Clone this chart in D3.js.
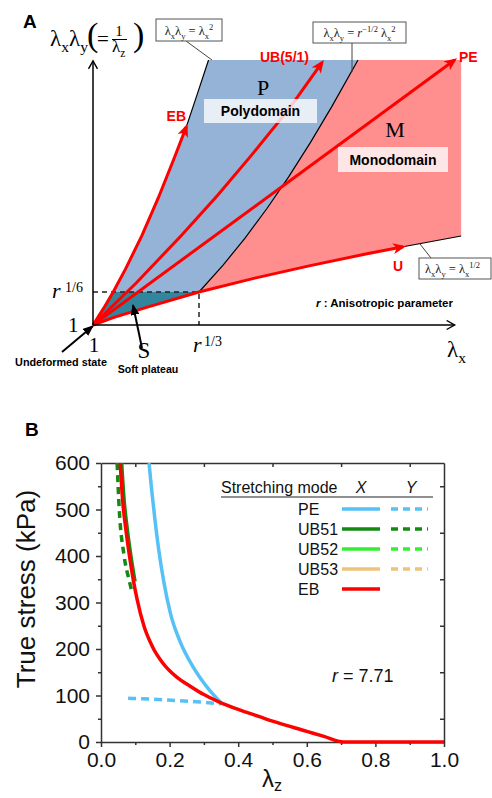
<!DOCTYPE html>
<html>
<head>
<meta charset="utf-8">
<script src="https://cdn.jsdelivr.net/npm/d3@7"></script>
<style>
  body { margin: 0; background: #fff; }
  svg { display: block; }
</style>
</head>
<body>
<div id="chart"></div>
<script>
// ---------- panel A : deformation map, lambda_x vs lambda_x*lambda_y (r = 7.71)
const plateauX = 1.976;   // r^(1/3)
const plateauY = 1.406;   // r^(1/6)
const mapTop = 4.26;
const mapRight = 4.39;

const ebPath = [[1, 1], [1.1, 1.21], [1.186, 1.406], [1.3, 1.69], [1.45, 2.1], [1.6, 2.56], [1.75, 3.06], [1.86, 3.44]];
const ebBoundary = [[1.86, 3.44], [1.97, 3.88], [2.064, 4.26]];
const ubPath = [[1, 1], [1.4, 1.52], [1.82, 2.11], [2.15, 2.6], [2.46, 3.09], [2.8, 3.65], [3.11, 4.23]];
const pePath = [[1, 1], [4.33, 4.26]];
const uPath = [[1, 1], [1.186, 1.09], [1.5, 1.22], [1.976, 1.406], [2.5, 1.58], [3, 1.73], [3.5, 1.87], [3.855, 1.963]];
const uBoundary = [[3.855, 1.963], [4.39, 2.095]];
const pmBoundary = [[1.976, 1.406], [2.2, 1.74], [2.4, 2.07], [2.6, 2.43], [2.8, 2.82], [3, 3.24], [3.2, 3.69], [3.44, 4.26]];

// ---------- panel B : true stress vs lambda_z
const stressTicks = [0, 100, 200, 300, 400, 500, 600];
const stressMinor = [50, 150, 250, 350, 450, 550];
const lambdaTicks = [0, 0.2, 0.4, 0.6, 0.8, 1.0];
const lambdaMinor = [0.1, 0.3, 0.5, 0.7, 0.9];

const peX = [[0.140, 600], [0.148, 540], [0.157, 480], [0.168, 415], [0.183, 345], [0.203, 275], [0.23, 217], [0.268, 162], [0.308, 119], [0.35, 84]];
const peY = [[0.079, 94], [0.15, 92], [0.22, 89], [0.29, 86], [0.35, 82]];
const ub51X = [[0.061, 600], [0.068, 522], [0.077, 460], [0.088, 400], [0.1, 345]];
const ub51Y = [[0.047, 600], [0.053, 503], [0.067, 402], [0.082, 348], [0.09, 324]];
const ebX = [[0.056, 600], [0.063, 520], [0.072, 460], [0.083, 400], [0.095, 345], [0.105, 308], [0.125, 250],
             [0.15, 205], [0.18, 170], [0.22, 140], [0.26, 120], [0.3, 102], [0.342, 87], [0.4, 70],
             [0.464, 54], [0.5, 45], [0.6, 23], [0.65, 12], [0.707, 0], [1.0, 0]];

const legendRows = [
  { name: "PE", color: "#55c1f6", dashed: true },
  { name: "UB51", color: "#138a13", dashed: true },
  { name: "UB52", color: "#33ee33", dashed: true },
  { name: "UB53", color: "#eec47a", dashed: true },
  { name: "EB", color: "#ff0000", dashed: false }
];

const SANS = "Arial, 'Liberation Sans', sans-serif";
const SERIF = "'Times New Roman', 'Liberation Serif', serif";
const RED = "#ff0000";

const svg = d3.select("#chart").append("svg")
  .attr("width", 492).attr("height", 798)
  .style("font-family", SANS);
const defs = svg.append("defs");

defs.append("marker").attr("id", "redHead")
  .attr("viewBox", "0 0 13 11").attr("refX", 10).attr("refY", 5.5)
  .attr("markerWidth", 13).attr("markerHeight", 11)
  .attr("markerUnits", "userSpaceOnUse").attr("orient", "auto")
  .append("path").attr("d", "M0,0 L13,5.5 L0,11 L3.5,5.5 Z").attr("fill", RED);

defs.append("marker").attr("id", "openHead")
  .attr("viewBox", "-1 -1 11 11").attr("refX", 8).attr("refY", 4.5)
  .attr("markerWidth", 11).attr("markerHeight", 11)
  .attr("markerUnits", "userSpaceOnUse").attr("orient", "auto")
  .append("path").attr("d", "M0,0 L8,4.5 L0,9").attr("fill", "none")
  .attr("stroke", "#000").attr("stroke-width", 1.4);

defs.append("marker").attr("id", "blackHead")
  .attr("viewBox", "0 0 11 9").attr("refX", 10).attr("refY", 4.5)
  .attr("markerWidth", 11).attr("markerHeight", 9)
  .attr("markerUnits", "userSpaceOnUse").attr("orient", "auto")
  .append("path").attr("d", "M0,0 L11,4.5 L0,9 Z").attr("fill", "#000");

// text with sub / superscripts
function mathText(sel, x, y, parts, size, anchor) {
  const t = sel.append("text").attr("x", x).attr("y", y)
    .attr("font-family", SERIF).attr("font-size", size)
    .attr("text-anchor", anchor || "start");
  let shift = 0;
  parts.forEach(p => {
    const str = typeof p === "string" ? p : p[0];
    const kind = typeof p === "string" ? "" : p[1];
    let target = 0, fs = size;
    if (kind === "sub") { target = size * 0.28; fs = size * 0.68; }
    if (kind === "sup") { target = -size * 0.4; fs = size * 0.68; }
    const ts = t.append("tspan").attr("font-size", fs).attr("dy", target - shift).text(str);
    if (kind === "i") ts.attr("font-style", "italic");
    shift = target;
  });
  return t;
}

// ================= PANEL A =================
const xA = d3.scaleLinear().domain([1, mapRight]).range([93, 93 + (mapRight - 1) * 108.6]);
const yA = d3.scaleLinear().domain([1, mapTop]).range([325, 60]);
const lineA = d3.line().x(d => xA(d[0])).y(d => yA(d[1]));

const gA = svg.append("g");

const tealRegion = [...ebPath.slice(0, 3), ...uPath.slice(0, 4).reverse()];
const blueRegion = [...ebPath.slice(2), ...ebBoundary.slice(1), ...pmBoundary.slice().reverse()];
const redRegion = [...pmBoundary, [mapRight, mapTop], [mapRight, uBoundary[1][1]], ...uPath.slice(3).reverse()];

gA.append("path").attr("d", lineA(blueRegion) + "Z").attr("fill", "#95b3d7");
gA.append("path").attr("d", lineA(redRegion) + "Z").attr("fill", "#ff8f8f");
gA.append("path").attr("d", lineA(tealRegion) + "Z").attr("fill", "#31859c");

[ebBoundary, pmBoundary, uBoundary].forEach(b => {
  gA.append("path").attr("d", lineA(b)).attr("fill", "none")
    .attr("stroke", "#000").attr("stroke-width", 1.2);
});

// r^(1/6), r^(1/3) guides
gA.append("path")
  .attr("d", lineA([[1, plateauY], [plateauX, plateauY], [plateauX, 1]]))
  .attr("fill", "none").attr("stroke", "#222").attr("stroke-width", 1.5)
  .attr("stroke-dasharray", "5,4");

// stretching paths
[ebPath, ubPath, pePath, uPath].forEach(p => {
  gA.append("path").attr("d", lineA(p)).attr("fill", "none")
    .attr("stroke", RED).attr("stroke-width", 3)
    .attr("marker-end", "url(#redHead)");
});

// axes
gA.append("path").attr("d", lineA([[1, 1], [4.33, 1]]))
  .attr("stroke", "#000").attr("stroke-width", 1.5).attr("marker-end", "url(#openHead)");
gA.append("path").attr("d", lineA([[1, 1], [1, 4.25]]))
  .attr("stroke", "#000").attr("stroke-width", 1.5).attr("marker-end", "url(#openHead)");

// region labels
gA.append("rect").attr("x", 204).attr("y", 99).attr("width", 113).attr("height", 24)
  .attr("fill", "#fff").attr("fill-opacity", 0.78);
gA.append("rect").attr("x", 338).attr("y", 147).attr("width", 110).attr("height", 25)
  .attr("fill", "#fff").attr("fill-opacity", 0.78);
gA.append("text").attr("x", 260.5).attr("y", 116).attr("text-anchor", "middle")
  .attr("font-size", 14).attr("font-weight", "bold").text("Polydomain");
gA.append("text").attr("x", 393).attr("y", 165).attr("text-anchor", "middle")
  .attr("font-size", 14).attr("font-weight", "bold").text("Monodomain");
gA.append("text").attr("x", 263).attr("y", 95).attr("text-anchor", "middle")
  .attr("font-family", SERIF).attr("font-size", 22).text("P");
gA.append("text").attr("x", 395).attr("y", 137).attr("text-anchor", "middle")
  .attr("font-family", SERIF).attr("font-size", 22).text("M");

// path labels
const redLabels = [
  { t: "EB", x: 186, y: 121, a: "end" },
  { t: "UB(5/1)", x: 309, y: 62, a: "end" },
  { t: "PE", x: 459, y: 62, a: "start" },
  { t: "U", x: 398, y: 271, a: "middle" }
];
redLabels.forEach(l => {
  gA.append("text").attr("x", l.x).attr("y", l.y).attr("text-anchor", l.a)
    .attr("font-size", 14).attr("font-weight", "bold").attr("fill", RED).text(l.t);
});

// boundary formula boxes
const boxes = [
  { x: 156, y: 19, w: 66, h: 22, tx: 189, ty: 35, anchor: "middle", lead: [[186, 41], [212, 60]],
    parts: ["λ", ["x", "sub"], "λ", ["y", "sub"], " = λ", ["x", "sub"], ["2", "sup"]] },
  { x: 313, y: 22, w: 93, h: 21, tx: 359.5, ty: 37, anchor: "middle", lead: [[352, 43], [352, 72]],
    parts: ["λ", ["x", "sub"], "λ", ["y", "sub"], " = ", ["r", "i"], ["−1/2", "sup"], " λ", ["x", "sub"], ["2", "sup"]] },
  { x: 419, y: 258, w: 72, h: 21, tx: 425, ty: 273, anchor: "start", lead: [[431, 258], [420, 244]],
    parts: ["λ", ["x", "sub"], "λ", ["y", "sub"], " = λ", ["x", "sub"], ["1/2", "sup"]] }
];
boxes.forEach(b => {
  gA.append("line").attr("x1", b.lead[0][0]).attr("y1", b.lead[0][1])
    .attr("x2", b.lead[1][0]).attr("y2", b.lead[1][1])
    .attr("stroke", "#444").attr("stroke-width", 1);
  gA.append("rect").attr("x", b.x).attr("y", b.y).attr("width", b.w).attr("height", b.h)
    .attr("fill", "#fff").attr("stroke", "#555").attr("stroke-width", 1);
  mathText(gA, b.tx, b.ty, b.parts, 12.5, b.anchor).attr("fill", "#222");
});

// axis titles & tick notes
gA.append("text").attr("x", 23).attr("y", 28).attr("font-size", 19).attr("font-weight", "bold").text("A");
mathText(gA, 50, 46, ["λ", ["x", "sub"], "λ", ["y", "sub"]], 23);
gA.append("text").attr("x", 87).attr("y", 46).attr("font-family", SERIF).attr("font-size", 34).text("(");
gA.append("text").attr("x", 97).attr("y", 46).attr("font-family", SERIF).attr("font-size", 21).text("=");
gA.append("text").attr("x", 119).attr("y", 36).attr("text-anchor", "middle")
  .attr("font-family", SERIF).attr("font-size", 15).text("1");
gA.append("line").attr("x1", 112).attr("x2", 127).attr("y1", 39.5).attr("y2", 39.5)
  .attr("stroke", "#000").attr("stroke-width", 1);
mathText(gA, 112, 52, ["λ", ["z", "sub"]], 17);
gA.append("text").attr("x", 133).attr("y", 46).attr("font-family", SERIF).attr("font-size", 34).text(")");

mathText(gA, 447, 357, ["λ", ["x", "sub"]], 23);

gA.append("text").attr("x", 52).attr("y", 298).attr("font-family", SERIF)
  .attr("font-style", "italic").attr("font-size", 22).text("r");
gA.append("text").attr("x", 65).attr("y", 292).attr("font-family", SERIF).attr("font-size", 14).text("1/6");
gA.append("text").attr("x", 193).attr("y", 352).attr("font-family", SERIF)
  .attr("font-style", "italic").attr("font-size", 22).text("r");
gA.append("text").attr("x", 204).attr("y", 346).attr("font-family", SERIF).attr("font-size", 14).text("1/3");
gA.append("text").attr("x", 68).attr("y", 332).attr("font-family", SERIF).attr("font-size", 21).text("1");
gA.append("text").attr("x", 94).attr("y", 352).attr("text-anchor", "middle")
  .attr("font-family", SERIF).attr("font-size", 21).text("1");
gA.append("text").attr("x", 144).attr("y", 358).attr("text-anchor", "middle")
  .attr("font-family", SERIF).attr("font-size", 23).text("S");

const rNote = gA.append("text").attr("x", 316).attr("y", 307).attr("font-size", 11.5).attr("font-weight", "bold");
rNote.append("tspan").attr("font-style", "italic").text("r");
rNote.append("tspan").text(" : Anisotropic parameter");

gA.append("text").attr("x", 61).attr("y", 366).attr("text-anchor", "middle")
  .attr("font-size", 10.8).attr("font-weight", "bold").text("Undeformed state");
gA.append("text").attr("x", 148).attr("y", 373).attr("text-anchor", "middle")
  .attr("font-size", 10.6).attr("font-weight", "bold").text("Soft plateau");

gA.append("line").attr("x1", 62).attr("y1", 352).attr("x2", 93).attr("y2", 326)
  .attr("stroke", "#000").attr("stroke-width", 2).attr("marker-end", "url(#blackHead)");
gA.append("line").attr("x1", 142).attr("y1", 348).attr("x2", 133).attr("y2", 305)
  .attr("stroke", "#000").attr("stroke-width", 2).attr("marker-end", "url(#blackHead)");

// ================= PANEL B =================
const xB = d3.scaleLinear().domain([0, 1]).range([101, 444]);
const yB = d3.scaleLinear().domain([0, 600]).range([742, 463]);
const gB = svg.append("g");
const AX = "#333";

gB.append("text").attr("x", 25).attr("y", 436).attr("font-size", 19).attr("font-weight", "bold").text("B");

function styleAxis(g) {
  g.attr("font-size", null).attr("font-family", null);
  g.selectAll("path, line").attr("stroke", AX).attr("stroke-width", 1.5);
  g.selectAll("text").attr("font-size", 21).attr("font-family", SANS).attr("fill", "#111");
}

gB.append("g").attr("transform", "translate(0,742)")
  .call(d3.axisBottom(xB).tickValues(lambdaTicks).tickFormat(d3.format(".1f"))
    .tickSizeInner(5).tickSizeOuter(0).tickPadding(5))
  .call(styleAxis);
gB.append("g").attr("transform", "translate(0,742)")
  .call(d3.axisBottom(xB).tickValues(lambdaMinor).tickFormat("").tickSize(3))
  .call(g => g.select(".domain").remove()).call(styleAxis);
gB.append("g").attr("transform", "translate(101,0)")
  .call(d3.axisLeft(yB).tickValues(stressTicks).tickSizeInner(5).tickSizeOuter(0).tickPadding(6))
  .call(styleAxis);
gB.append("g").attr("transform", "translate(101,0)")
  .call(d3.axisLeft(yB).tickValues(stressMinor).tickFormat("").tickSize(3))
  .call(g => g.select(".domain").remove()).call(styleAxis);
gB.append("g").attr("transform", "translate(0,463)")
  .call(d3.axisBottom(xB).tickValues(lambdaMinor).tickFormat("").tickSizeInner(4).tickSizeOuter(0))
  .call(styleAxis);
gB.append("g").attr("transform", "translate(444,0)")
  .call(d3.axisLeft(yB).tickValues(stressMinor).tickFormat("").tickSizeInner(4).tickSizeOuter(0))
  .call(styleAxis);

gB.append("text").attr("transform", "translate(35,589) rotate(-90)")
  .attr("text-anchor", "middle").attr("font-size", 26).attr("fill", "#111").text("True stress (kPa)");
const xt = gB.append("text").attr("x", 262).attr("y", 787).attr("font-size", 24).attr("fill", "#111");
xt.append("tspan").text("λ");
xt.append("tspan").attr("font-size", 16).attr("dy", 4).text("z");

defs.append("clipPath").attr("id", "plotClip").append("rect")
  .attr("x", 101).attr("y", 463).attr("width", 343).attr("height", 283);

const lineB = d3.line().x(d => xB(d[0])).y(d => yB(d[1])).curve(d3.curveMonotoneX);
const curves = [
  { data: ub51X, color: "#138a13", dash: null, w: 3 },
  { data: ub51Y, color: "#138a13", dash: "7,5", w: 3.5 },
  { data: peY, color: "#55c1f6", dash: "8,5", w: 3.5 },
  { data: peX, color: "#55c1f6", dash: null, w: 3.5 },
  { data: ebX, color: "#ff0000", dash: null, w: 3.5 }
];
const plot = gB.append("g").attr("clip-path", "url(#plotClip)");
curves.forEach(c => {
  plot.append("path").attr("d", lineB(c.data)).attr("fill", "none")
    .attr("stroke", c.color).attr("stroke-width", c.w)
    .attr("stroke-dasharray", c.dash);
});

// legend
gB.append("text").attr("x", 221).attr("y", 493).attr("font-size", 16).attr("fill", "#111").text("Stretching mode");
gB.append("text").attr("x", 361).attr("y", 493).attr("text-anchor", "middle")
  .attr("font-size", 16).attr("font-style", "italic").attr("fill", "#111").text("X");
gB.append("text").attr("x", 411).attr("y", 493).attr("text-anchor", "middle")
  .attr("font-size", 16).attr("font-style", "italic").attr("fill", "#111").text("Y");
gB.append("line").attr("x1", 221).attr("x2", 433).attr("y1", 497).attr("y2", 497)
  .attr("stroke", "#222").attr("stroke-width", 1.2);

legendRows.forEach((r, i) => {
  const by = 515 + i * 20;
  gB.append("text").attr("x", 298).attr("y", by).attr("font-size", 16).attr("fill", "#111").text(r.name);
  gB.append("line").attr("x1", 342).attr("x2", 380).attr("y1", by - 6).attr("y2", by - 6)
    .attr("stroke", r.color).attr("stroke-width", 3.5);
  if (r.dashed) {
    gB.append("line").attr("x1", 391).attr("x2", 428).attr("y1", by - 6).attr("y2", by - 6)
      .attr("stroke", r.color).attr("stroke-width", 3.5).attr("stroke-dasharray", "7,5");
  }
});

const rv = gB.append("text").attr("x", 332).attr("y", 682).attr("font-size", 18).attr("fill", "#111");
rv.append("tspan").attr("font-style", "italic").text("r");
rv.append("tspan").text(" = 7.71");
</script>
</body>
</html>
